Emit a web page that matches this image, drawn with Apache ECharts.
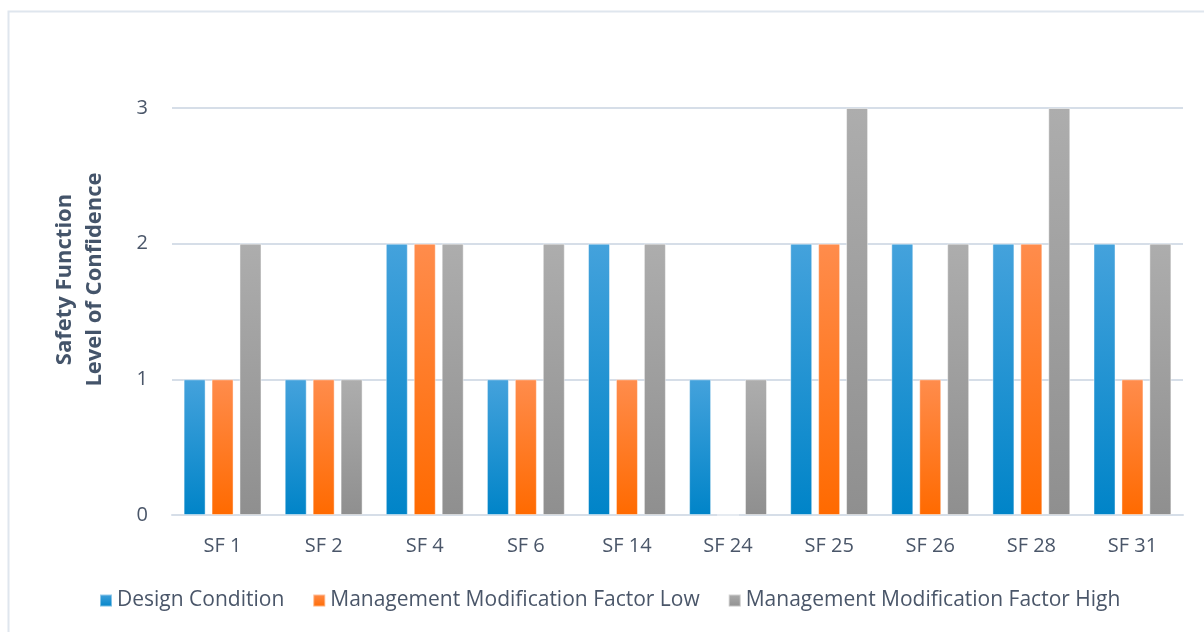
<!DOCTYPE html>
<html>
<head>
<meta charset="utf-8">
<script src="https://cdn.jsdelivr.net/npm/echarts@6/dist/echarts.min.js"></script>
<style>
  html, body { margin: 0; padding: 0; background: #ffffff; }
  #chart { width: 1204px; height: 632px; }
</style>
</head>
<body>
<div id="chart"></div>
<script>
// Safety functions and their confidence levels per scenario
const categories = ['SF 1', 'SF 2', 'SF 4', 'SF 6', 'SF 14', 'SF 24', 'SF 25', 'SF 26', 'SF 28', 'SF 31'];
const designCondition = [1, 1, 2, 1, 2, 1, 2, 2, 2, 2];
const mmfLow = [1, 1, 2, 1, 1, 0, 2, 1, 2, 1];
const mmfHigh = [2, 1, 2, 2, 2, 1, 3, 2, 3, 2];
const yTicks = [0, 1, 2, 3];

const seriesNames = ['Design Condition', 'Management Modification Factor Low', 'Management Modification Factor High'];
const textColor = '#4a5669';
const fontFamily = '"Open Sans", "Liberation Sans", sans-serif';

function grad(top, bottom) {
  return new echarts.graphic.LinearGradient(0, 0, 0, 1, [
    { offset: 0, color: top },
    { offset: 1, color: bottom }
  ]);
}

const chart = echarts.init(document.getElementById('chart'), null, { renderer: 'canvas' });

const barStyle = (top, bottom) => ({
  color: grad(top, bottom),
  borderColor: 'rgba(255,255,255,0.45)',
  borderWidth: 1
});

chart.setOption({
  backgroundColor: '#ffffff',
  animation: false,
  graphic: [{
    type: 'rect',
    shape: { x: 8.5, y: 11.5, width: 1200, height: 640 },
    style: { fill: 'none', stroke: '#dfe6ee', lineWidth: 2 },
    silent: true
  }],
  grid: { left: 172, right: 21, top: 108, bottom: 117 },
  legend: {
    data: seriesNames,
    left: 94,
    top: 585,
    itemWidth: 12,
    itemHeight: 12,
    itemGap: 28,
    icon: 'rect',
    textStyle: { color: textColor, fontSize: 21, fontFamily: fontFamily }
  },
  xAxis: {
    type: 'category',
    data: categories,
    axisLine: { show: true, lineStyle: { color: '#d6dee8', width: 2 } },
    axisTick: { show: false },
    axisLabel: { color: textColor, fontSize: 20, fontFamily: fontFamily, margin: 21 }
  },
  yAxis: {
    type: 'value',
    min: yTicks[0],
    max: yTicks[yTicks.length - 1],
    interval: 1,
    name: 'Safety Function\nLevel of Confidence',
    nameLocation: 'middle',
    nameGap: 62,
    nameTextStyle: {
      color: '#44546a', fontSize: 22, fontWeight: 'bold', fontFamily: fontFamily,
      lineHeight: 30, padding: [0, 0, 0, 64]
    },
    axisLine: { show: false },
    axisTick: { show: false },
    axisLabel: { color: textColor, fontSize: 20, fontFamily: fontFamily, margin: 24 },
    splitLine: { lineStyle: { color: '#d6dee8', width: 2 } }
  },
  series: [
    {
      name: seriesNames[0], type: 'bar', data: designCondition,
      barWidth: 22, barGap: '27%',
      itemStyle: barStyle('#44a2dc', '#0084c8')
    },
    {
      name: seriesNames[1], type: 'bar', data: mmfLow,
      barWidth: 22, barGap: '27%',
      itemStyle: barStyle('#ff8c4c', '#ff6a00')
    },
    {
      name: seriesNames[2], type: 'bar', data: mmfHigh,
      barWidth: 22, barGap: '27%',
      itemStyle: barStyle('#adadad', '#8f8f8f')
    }
  ]
});
</script>
</body>
</html>
